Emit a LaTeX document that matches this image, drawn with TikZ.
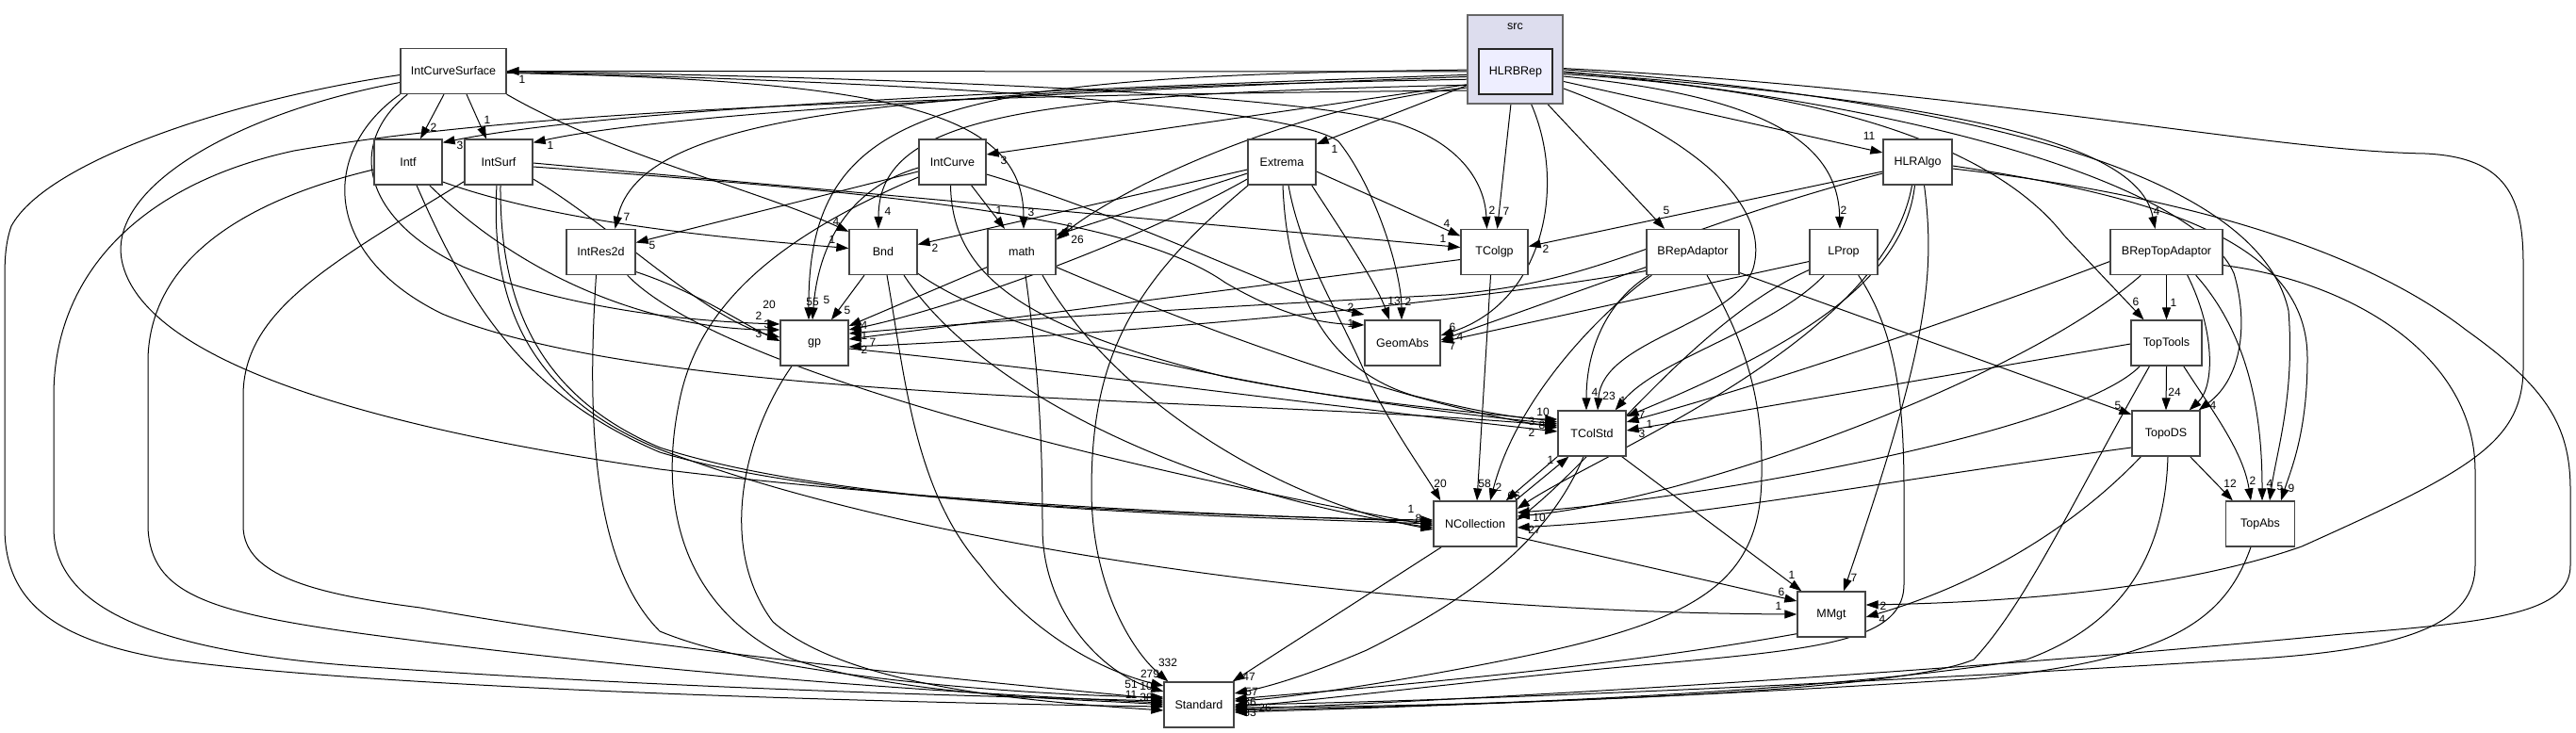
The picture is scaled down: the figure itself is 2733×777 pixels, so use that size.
\documentclass[tikz,border=0pt]{standalone}
\usepackage{fontspec}
\setmainfont{Liberation Sans}
\usetikzlibrary{arrows.meta,calc}
\definecolor{clfill}{HTML}{DDDDEE}
\definecolor{hlfill}{HTML}{EEEEFF}
\definecolor{boxline}{HTML}{444444}
\pgfdeclarelayer{bg}
\pgfdeclarelayer{edges}
\pgfsetlayers{bg,edges,main}
\begin{document}
\begin{tikzpicture}[x=1pt,y=-1pt,
  box/.style={draw=boxline,line width=1.3pt,fill=white,minimum height=48pt,inner sep=0pt,font=\fontsize{12.5}{14}\selectfont},
  e/.style={line width=1pt,-{Triangle[length=13pt,width=9pt]}},
  lab/.style={inner sep=0pt,font=\fontsize{12}{14}\selectfont}]
\begin{pgfonlayer}{bg}
\fill[white] (0,0) rectangle (2733,777);
\end{pgfonlayer}
\useasboundingbox (0,0) rectangle (2733,777);
% nodes
\node[draw=black!60,line width=1.2pt,fill=clfill,minimum width=101pt,minimum height=94pt,inner sep=0pt] (src) at (1607.5,63) {};
\node[lab,font=\fontsize{12.5}{14}\selectfont] (srcl) at (1607.5,28) {src};
\node[box,fill=hlfill,draw=black!85,line width=1.6pt,minimum width=78pt] (H) at (1608,76) {HLRBRep};
\node[box,minimum width=112pt] (ICS) at (481,75.5) {IntCurveSurface};
\node[box,minimum width=72pt] (Intf) at (433,172) {Intf};
\node[box,minimum width=72pt] (ISu) at (529,172) {IntSurf};
\node[box,minimum width=73pt] (IR) at (637.5,267.5) {IntRes2d};
\node[box,minimum width=71pt] (IC) at (1010.5,172) {IntCurve};
\node[box,minimum width=72pt] (Ex) at (1360,172) {Extrema};
\node[box,minimum width=72pt] (Bnd) at (937,267.5) {Bnd};
\node[box,minimum width=72pt] (math) at (1084,267.5) {math};
\node[box,minimum width=72pt] (gp) at (864,364) {gp};
\node[box,minimum width=73pt] (HA) at (2034.5,172) {HLRAlgo};
\node[box,minimum width=71pt] (TCg) at (1585.5,267.5) {TColgp};
\node[box,minimum width=98pt] (BA) at (1796,267.5) {BRepAdaptor};
\node[box,minimum width=72pt] (LP) at (1956,267.5) {LProp};
\node[box,minimum width=80pt] (GA) at (1488,364) {GeomAbs};
\node[box,minimum width=119pt] (BTA) at (2298.5,267.5) {BRepTopAdaptor};
\node[box,minimum width=75pt] (TT) at (2298.5,364) {TopTools};
\node[box,minimum width=72pt] (TCS) at (1689,460) {TColStd};
\node[box,minimum width=88pt] (NC) at (1565,556) {NCollection};
\node[box,minimum width=72pt] (MM) at (1943,652) {MMgt};
\node[box,minimum width=72pt] (TDS) at (2298,460) {TopoDS};
\node[box,minimum width=73pt] (TA) at (2398,556) {TopAbs};
\node[box,minimum width=74pt] (Std) at (1272,748) {Standard};
\begin{pgfonlayer}{edges}
% HLRBRep
\draw[e] (H.west) -- (ICS.east);
\draw[e] ($(H.west)+(0,3)$) .. controls (1100,95) and (650,115) .. ($(Intf.north east)+(0,4)$);
\draw[e] ($(H.west)+(0,5)$) .. controls (1150,96) and (720,118) .. ($(ISu.north east)+(0,4)$);
\draw[e] ($(H.west)+(0,8)$) .. controls (950,95) and (680,120) .. ($(IR.north)+(15,0)$);
\draw[e] ($(H.west)+(0,12)$) -- ($(IC.east)+(0,-8)$);
\draw[e] ($(H.west)+(0,10)$) -- ($(Ex.east)+(0,-19)$);
\draw[e] ($(H.west)+(0,14)$) .. controls (1100,100) and (932,120) .. ($(Bnd.north)+(-5,0)$);
\draw[e] ($(H.west)+(0,16)$) .. controls (1400,105) and (1200,190) .. ($(math.east)+(0,-13)$);
\draw[e] ($(H.west)+(0,-2)$) .. controls (1000,80) and (857,110) .. ($(gp.north)+(-6,0)$);
\draw[e] ($(H.south)+(-4,0)$) -- ($(TCg.north)+(3,0)$);
\draw[e] ($(H.south)+(12,0)$) .. controls (1665,190) and (1640,320) .. ($(GA.east)+(0,-8)$);
\draw[e] ($(H.south east)+(-15,0)$) -- ($(BA.north)+(-30,0)$);
\draw[e] ($(H.east)+(0,14)$) .. controls (1790,140) and (1880,215) .. (1860,285) .. controls (1840,345) and (1700,360) .. ($(TCS.north)+(6,0)$);
\draw[e] ($(H.east)+(0,8)$) -- ($(HA.west)+(0,-10)$);
\draw[e] ($(H.east)+(0,4)$) .. controls (1870,100) and (1950,150) .. ($(LP.north)+(-4,0)$);
\draw[e] (H.east) .. controls (2120,110) and (2270,160) .. ($(BTA.north)+(-12,0)$);
\draw[e] ($(H.east)+(0,2)$) .. controls (1950,95) and (2120,160) .. (2190,250) -- ($(TT.north)+(-24,0)$);
\draw[e] ($(H.east)+(0,-1)$) .. controls (2050,110) and (2330,200) .. (2370,290) .. controls (2385,340) and (2380,400) .. ($(TDS.north east)+(-2,0)$);
\draw[e] ($(H.east)+(0,-3)$) .. controls (2150,110) and (2400,200) .. (2428,330) .. controls (2435,420) and (2415,480) .. ($(TA.north)+(10,0)$);
\draw[e] ($(H.east)+(0,-4)$) .. controls (2100,95) and (2400,160) .. (2573,163) .. controls (2660,167) and (2677,210) .. (2677,280) -- (2677,390) .. controls (2677,470) and (2620,500) .. (2442,580) .. controls (2300,630) and (2100,640) .. ($(MM.east)+(0,-10)$);
\draw[e] ($(H.west)+(0,20)$) .. controls (1100,100) and (600,110) .. (312,160) .. controls (150,195) and (57,290) .. (57,420) -- (57,560) .. controls (57,640) and (150,690) .. (380,707) .. controls (700,730) and (1000,738) .. ($(Std.west)+(0,-4)$);
% IntCurveSurface
\draw[e] ($(ICS.south)+(-10,0)$) -- ($(Intf.north)+(13,0)$);
\draw[e] ($(ICS.south)+(14,0)$) -- ($(ISu.north)+(-13,0)$);
\draw[e] (ICS.south east) .. controls (650,165) and (800,200) .. ($(Bnd.north west)+(0,3)$);
\draw[e] ($(ICS.east)+(0,2)$) .. controls (950,85) and (1086,120) .. ($(math.north)+(2,0)$);
\draw[e] (ICS.east) .. controls (1100,85) and (1380,105) .. (1480,130) .. controls (1545,150) and (1575,190) .. ($(TCg.north)+(-8,0)$);
\draw[e] ($(ICS.east)+(0,1)$) .. controls (1100,90) and (1380,120) .. (1420,150) .. controls (1460,200) and (1487,290) .. ($(GA.north)+(-1,0)$);
\draw[e] ($(ICS.south west)+(8,0)$) .. controls (370,150) and (380,230) .. (491,283) .. controls (580,320) and (700,340) .. ($(gp.west)+(0,-20)$);
\draw[e] (ICS.south west) .. controls (340,160) and (340,270) .. (469,333) .. controls (700,430) and (1300,420) .. ($(TCS.west)+(0,-8)$);
\draw[e] ($(ICS.west)+(0,12)$) .. controls (250,120) and (110,200) .. (130,280) .. controls (150,360) and (300,440) .. (700,498) .. controls (1000,535) and (1350,550) .. ($(NC.west)+(0,-4)$);
\draw[e] ($(ICS.west)+(0,4)$) .. controls (250,105) and (50,170) .. (12,240) .. controls (5,260) and (5,280) .. (5,300) -- (5,560) .. controls (5,640) and (60,680) .. (179,700) .. controls (400,730) and (900,745) .. ($(Std.west)+(0,2)$);
% Intf
\draw[e] ($(Intf.east)+(0,21)$) .. controls (600,240) and (800,255) .. ($(Bnd.west)+(0,-4)$);
\draw[e] ($(Intf.south east)+(-14,0)$) .. controls (560,300) and (700,350) .. ($(gp.west)+(0,-14)$);
\draw[e] ($(Intf.south)+(9,0)$) .. controls (500,330) and (560,420) .. (700,480) .. controls (900,540) and (1300,545) .. ($(NC.west)+(0,-2)$);
\draw[e] ($(Intf.west)+(0,8)$) .. controls (250,215) and (160,280) .. (157,380) -- (157,560) .. controls (160,630) and (220,650) .. (388,673) .. controls (700,715) and (1000,735) .. ($(Std.west)+(0,-2)$);
% IntSurf
\draw[e] ($(ISu.east)+(0,1)$) -- ($(TCg.west)+(0,-5)$);
\draw[e] ($(ISu.east)+(0,5)$) .. controls (950,205) and (1200,230) .. (1300,300) .. controls (1360,335) and (1400,343) .. ($(GA.west)+(0,-19)$);
\draw[e] ($(ISu.east)+(0,18)$) .. controls (650,240) and (750,340) .. ($(gp.west)+(0,-6)$);
\draw[e] ($(ISu.south)+(-2,0)$) .. controls (520,320) and (560,420) .. (700,477) .. controls (1000,590) and (1500,650) .. (MM.west);
\draw[e] ($(ISu.south)+(2,0)$) .. controls (530,320) and (570,420) .. (700,475) .. controls (900,540) and (1300,548) .. (NC.west);
\draw[e] ($(ISu.south west)+(0,-4)$) .. controls (350,280) and (258,330) .. (258,420) -- (258,560) .. controls (260,610) and (330,630) .. (446,645) .. controls (700,690) and (1000,720) .. ($(Std.west)+(0,-6)$);
% IntRes2d
\draw[e] ($(IR.east)+(0,21)$) .. controls (740,310) and (790,345) .. ($(gp.west)+(0,-2)$);
\draw[e] ($(IR.south east)+(-9,0)$) .. controls (750,380) and (1100,480) .. ($(NC.west)+(0,2)$);
\draw[e] ($(IR.south)+(-5,0)$) .. controls (622,450) and (630,600) .. (700,670) .. controls (820,720) and (1100,738) .. ($(Std.west)+(0,-8)$);
% IntCurve
\draw[e] ($(IC.west)+(0,10)$) -- ($(IR.east)+(0,-10)$);
\draw[e] ($(IC.south)+(20,0)$) -- ($(math.north)+(-18,0)$);
\draw[e] ($(IC.west)+(0,6)$) .. controls (900,200) and (868,260) .. ($(gp.north)+(-2,0)$);
\draw[e] ($(IC.east)+(0,13)$) .. controls (1200,230) and (1380,320) .. ($(GA.west)+(0,-30)$);
\draw[e] ($(IC.south)+(-2,0)$) .. controls (1010,300) and (1100,350) .. (1300,400) .. controls (1450,430) and (1600,440) .. ($(TCS.west)+(0,-12)$);
\draw[e] ($(IC.west)+(0,16)$) .. controls (830,250) and (740,320) .. (720,430) .. controls (700,530) and (720,640) .. (834,697) .. controls (950,740) and (1150,742) .. (Std.west);
% Extrema
\draw[e] ($(Ex.west)+(0,8)$) -- ($(Bnd.east)+(0,-8)$);
\draw[e] ($(Ex.west)+(0,12)$) -- ($(math.east)+(0,-18)$);
\draw[e] ($(Ex.east)+(0,10)$) -- ($(TCg.west)+(0,-17)$);
\draw[e] ($(Ex.south east)+(-5,0)$) .. controls (1420,240) and (1460,300) .. ($(GA.north)+(-14,0)$);
\draw[e] ($(Ex.west)+(0,18)$) .. controls (1200,260) and (1000,330) .. ($(gp.east)+(0,-14)$);
\draw[e] ($(Ex.south)+(1,0)$) .. controls (1365,300) and (1400,390) .. (1500,420) .. controls (1580,440) and (1620,445) .. ($(TCS.west)+(0,-15)$);
\draw[e] ($(Ex.south)+(7,0)$) .. controls (1380,270) and (1420,330) .. (1450,400) .. controls (1480,460) and (1510,500) .. ($(NC.north west)+(8,0)$);
\draw[e] ($(Ex.south west)+(1,0)$) .. controls (1200,300) and (1158,380) .. (1158,520) .. controls (1158,620) and (1200,690) .. ($(Std.north west)+(5,0)$);
% Bnd
\draw[e] ($(Bnd.south)+(-20,0)$) -- ($(gp.north)+(18,0)$);
\draw[e] ($(Bnd.south east)+(0,-2)$) .. controls (1100,380) and (1450,430) .. ($(TCS.west)+(0,-10)$);
\draw[e] ($(Bnd.south)+(22,0)$) .. controls (1050,430) and (1300,530) .. ($(NC.west)+(0,4)$);
\draw[e] ($(Bnd.south)+(4,0)$) .. controls (960,400) and (970,520) .. (1040,600) .. controls (1100,680) and (1180,715) .. ($(Std.west)+(0,-20)$);
% math
\draw[e] ($(math.west)+(0,16)$) -- ($(gp.east)+(0,-18)$);
\draw[e] ($(math.east)+(0,16)$) .. controls (1300,360) and (1500,430) .. ($(TCS.west)+(0,-6)$);
\draw[e] ($(math.south)+(22,0)$) .. controls (1180,420) and (1350,530) .. ($(NC.west)+(0,6)$);
\draw[e] ($(math.south)+(4,0)$) .. controls (1100,380) and (1106,450) .. (1106,560) .. controls (1106,650) and (1170,715) .. ($(Std.west)+(0,-14)$);
% gp
\draw[e] ($(gp.east)+(0,6)$) .. controls (1100,390) and (1400,430) .. ($(TCS.west)+(0,-2)$);
\draw[e] ($(gp.south)+(-24,0)$) .. controls (790,460) and (760,580) .. (820,660) .. controls (900,730) and (1100,745) .. ($(Std.west)+(0,6)$);
% TColgp
\draw[e] ($(TCg.west)+(0,8)$) -- ($(gp.east)+(0,-4)$);
\draw[e] ($(TCg.south)+(-4,0)$) -- ($(NC.north)+(2,0)$);
% BRepAdaptor
\draw[e] ($(BA.south west)+(3,0)$) .. controls (1705,320) and (1683,370) .. ($(TCS.north)+(-6,0)$);
\draw[e] ($(BA.west)+(0,16)$) -- ($(GA.east)+(0,-3)$);
\draw[e] ($(BA.west)+(0,20)$) .. controls (1500,330) and (1100,360) .. ($(gp.east)+(0,4)$);
\draw[e] ($(BA.south west)+(6,0)$) .. controls (1700,330) and (1610,420) .. ($(NC.north)+(16,0)$);
\draw[e] ($(BA.east)+(0,22)$) -- ($(TDS.west)+(0,-20)$);
\draw[e] ($(BA.south)+(15,0)$) .. controls (1850,360) and (1870,420) .. (1869,500) .. controls (1870,620) and (1800,660) .. (1600,700) .. controls (1450,730) and (1350,742) .. ($(Std.east)+(0,-4)$);
% LProp
\draw[e] ($(LP.south west)+(16,0)$) .. controls (1880,350) and (1760,380) .. ($(TCS.north east)+(-12,0)$);
\draw[e] ($(LP.west)+(0,10)$) -- ($(GA.east)+(0,-1)$);
\draw[e] ($(LP.west)+(0,19)$) .. controls (1800,340) and (1700,480) .. ($(NC.east)+(0,-4)$);
\draw[e] ($(LP.south east)+(-21,0)$) .. controls (2010,350) and (2020,420) .. (2020,520) -- (2020,620) .. controls (2020,690) and (1900,690) .. (1668,713) .. controls (1500,730) and (1380,745) .. ($(Std.east)+(0,2)$);
% HLRAlgo
\draw[e] ($(HA.west)+(0,10)$) -- ($(TCg.east)+(0,-6)$);
\draw[e] ($(HA.west)+(0,12)$) .. controls (1750,250) and (1700,300) .. (1534,313) .. controls (1200,330) and (1000,345) .. ($(gp.east)+(0,-10)$);
\draw[e] ($(HA.south)+(-3,0)$) .. controls (2020,300) and (1900,370) .. ($(TCS.east)+(0,-18)$);
\draw[e] ($(HA.south)+(-6,0)$) .. controls (2000,360) and (1700,480) .. ($(NC.east)+(0,-16)$);
\draw[e] ($(HA.south)+(7,0)$) .. controls (2055,300) and (2040,380) .. ($(MM.north)+(13,0)$);
\draw[e] ($(HA.east)+(0,4)$) .. controls (2300,210) and (2448,260) .. (2448,380) .. controls (2448,460) and (2430,500) .. ($(TA.north)+(22,0)$);
\draw[e] ($(HA.east)+(0,7)$) .. controls (2300,205) and (2500,260) .. (2616,350) .. controls (2700,410) and (2727,450) .. (2727,520) -- (2727,600) .. controls (2727,650) and (2650,660) .. (2485,673) .. controls (2000,720) and (1500,745) .. ($(Std.east)+(0,5)$);
% BRepTopAdaptor
\draw[e] (BTA.south) -- (TT.north);
\draw[e] ($(BTA.west)+(0,10)$) .. controls (2100,330) and (1900,400) .. ($(TCS.east)+(0,-12)$);
\draw[e] ($(BTA.south east)+(-38,0)$) .. controls (2350,350) and (2350,410) .. ($(TDS.north east)+(-12,0)$);
\draw[e] ($(BTA.south east)+(-29,0)$) .. controls (2390,360) and (2400,450) .. ($(TA.north)+(2,0)$);
\draw[e] ($(BTA.south west)+(33,0)$) .. controls (2150,400) and (1800,530) .. ($(NC.east)+(0,-8)$);
\draw[e] ($(BTA.east)+(0,14)$) .. controls (2500,300) and (2626,380) .. (2626,500) -- (2626,600) .. controls (2626,660) and (2560,690) .. (2380,700) .. controls (1900,730) and (1500,745) .. (Std.east);
% TopTools
\draw[e] ($(TT.west)+(0,1)$) -- ($(TCS.east)+(0,-3)$);
\draw[e] (TT.south) -- (TDS.north);
\draw[e] ($(TT.south east)+(-20,0)$) .. controls (2350,440) and (2380,480) .. ($(TA.north)+(-10,0)$);
\draw[e] ($(TT.south west)+(10,0)$) .. controls (2200,460) and (1800,530) .. ($(NC.east)+(0,-12)$);
\draw[e] ($(TT.south)+(-18,0)$) .. controls (2200,530) and (2150,640) .. (2094,700) .. controls (2000,740) and (1500,750) .. ($(Std.east)+(0,3)$);
% TopoDS
\draw[e] ($(TDS.south east)+(-11,0)$) -- ($(TA.north west)+(8,0)$);
\draw[e] ($(TDS.west)+(0,15)$) .. controls (2000,510) and (1800,550) .. ($(NC.east)+(0,4)$);
\draw[e] ($(TDS.south west)+(10,0)$) .. controls (2200,560) and (2100,620) .. ($(MM.east)+(0,3)$);
\draw[e] ($(TDS.south)+(2,0)$) .. controls (2297,580) and (2260,660) .. (2150,700) .. controls (1900,740) and (1500,750) .. ($(Std.east)+(0,6)$);
% TopAbs
\draw[e] ($(TA.south)+(-10,0)$) .. controls (2360,660) and (2300,700) .. (2100,720) .. controls (1800,740) and (1500,750) .. ($(Std.east)+(0,8)$);
% TColStd / NCollection / MMgt
\draw[e] (TCS.south west) -- ($(NC.north east)+(-12,0)$);
\draw[e] ($(NC.north east)+(-2,0)$) -- ($(TCS.south west)+(12,0)$);
\draw[e] ($(TCS.south east)+(-5,0)$) -- ($(MM.north west)+(5,0)$);
\draw[e] ($(TCS.south)+(-9,0)$) .. controls (1640,580) and (1550,640) .. (1450,690) .. controls (1380,720) and (1340,730) .. ($(Std.east)+(0,-12)$);
\draw[e] ($(NC.east)+(0,14)$) -- ($(MM.west)+(0,-14)$);
\draw[e] ($(NC.south west)+(9,0)$) -- ($(Std.north east)+(-2,0)$);
\draw[e] ($(MM.south west)+(0,-4)$) .. controls (1700,710) and (1450,730) .. ($(Std.east)+(0,-6)$);
\end{pgfonlayer}
% labels
\node[lab] (l1) at (554,84) {1};
\node[lab] (l2) at (488,154) {3};
\node[lab] (l3) at (584,154) {1};
\node[lab] (l4) at (665,230) {7};
\node[lab] (l5) at (1065,170) {3};
\node[lab] (l6) at (1416,158) {1};
\node[lab] (l7) at (942,224) {4};
\node[lab] (l8) at (1143,254) {26};
\node[lab] (l9) at (862,320) {55};
\node[lab] (l10) at (1598,224) {7};
\node[lab] (l11) at (1768,223) {5};
\node[lab] (l12) at (1707,420) {23};
\node[lab] (l13) at (1983,144) {11};
\node[lab] (l14) at (1956,223) {2};
\node[lab] (l15) at (2288,224) {4};
\node[lab] (l16) at (2266,320) {6};
\node[lab] (l17) at (2348,430) {4};
\node[lab] (l18) at (2419,516) {5};
\node[lab] (l19) at (1998,643) {2};
\node[lab] (l20) at (460,135) {2};
\node[lab] (l21) at (517,127) {1};
\node[lab] (l22) at (887,235) {4};
\node[lab] (l23) at (1094,225) {3};
\node[lab] (l24) at (1583,223) {2};
\node[lab] (l25) at (1494,320) {2};
\node[lab] (l26) at (816,323) {20};
\node[lab] (l27) at (883,254) {1};
\node[lab] (l28) at (805,335) {2};
\node[lab] (l29) at (1497,540) {1};
\node[lab] (l30) at (1531,253) {1};
\node[lab] (l31) at (1433,343) {1};
\node[lab] (l32) at (814,344) {3};
\node[lab] (l33) at (1887,643) {1};
\node[lab] (l34) at (1505,550) {8};
\node[lab] (l35) at (805,354) {3};
\node[lab] (l36) at (692,260) {5};
\node[lab] (l37) at (1060,223) {1};
\node[lab] (l38) at (877,318) {5};
\node[lab] (l39) at (1433,326) {2};
\node[lab] (l40) at (1625,447) {3};
\node[lab] (l41) at (992,263) {2};
\node[lab] (l42) at (1135,241) {6};
\node[lab] (l43) at (1535,237) {4};
\node[lab] (l44) at (1479,319) {13};
\node[lab] (l45) at (917,356) {1};
\node[lab] (l46) at (1637,437) {10};
\node[lab] (l47) at (1528,513) {20};
\node[lab] (l48) at (1239,703) {332};
\node[lab] (l49) at (899,329) {5};
\node[lab] (l50) at (1625,459) {2};
\node[lab] (l51) at (1220,715) {279};
\node[lab] (l52) at (917,345) {4};
\node[lab] (l53) at (1636,451) {8};
\node[lab] (l54) at (926,363) {7};
\node[lab] (l55) at (1575,513) {58};
\node[lab] (l56) at (1692,416) {4};
\node[lab] (l57) at (1549,357) {4};
\node[lab] (l58) at (917,371) {2};
\node[lab] (l59) at (1590,517) {2};
\node[lab] (l60) at (2247,430) {5};
\node[lab] (l61) at (1722,425) {1};
\node[lab] (l62) at (1541,367) {7};
\node[lab] (l63) at (1541,347) {6};
\node[lab] (l64) at (1640,264) {2};
\node[lab] (l65) at (1742,440) {7};
\node[lab] (l66) at (1621,539) {1};
\node[lab] (l67) at (1967,613) {7};
\node[lab] (l68) at (2431,518) {9};
\node[lab] (l69) at (2306,321) {1};
\node[lab] (l70) at (1750,450) {1};
\node[lab] (l71) at (2408,513) {4};
\node[lab] (l72) at (1633,549) {10};
\node[lab] (l73) at (1742,460) {3};
\node[lab] (l74) at (2307,416) {24};
\node[lab] (l75) at (2390,510) {2};
\node[lab] (l76) at (2366,513) {12};
\node[lab] (l77) at (1628,562) {27};
\node[lab] (l78) at (1997,657) {4};
\node[lab] (l79) at (1606,526) {66};
\node[lab] (l80) at (1645,488) {1};
\node[lab] (l81) at (1901,610) {1};
\node[lab] (l82) at (1890,628) {6};
\node[lab] (l83) at (1325,718) {47};
\node[lab] (l84) at (1328,734) {57};
\node[lab] (l85) at (1200,726) {51};
\node[lab] (l86) at (1216,728) {10};
\node[lab] (l87) at (1200,737) {11};
\node[lab] (l88) at (1216,740) {38};
\node[lab] (l89) at (1326,745) {36};
\node[lab] (l90) at (1342,751) {26};
\node[lab] (l91) at (1326,756) {33};
\end{tikzpicture}
\end{document}
